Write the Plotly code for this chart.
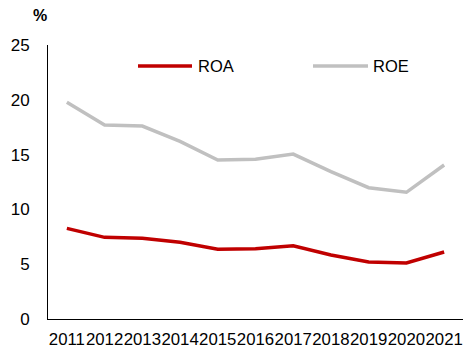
import plotly.graph_objects as go

years = ["2011", "2012", "2013", "2014", "2015", "2016", "2017", "2018", "2019", "2020", "2021"]
roa = [8.27, 7.45, 7.36, 7.0, 6.36, 6.42, 6.69, 5.84, 5.2, 5.11, 6.11]
roe = [19.77, 17.7, 17.6, 16.2, 14.5, 14.57, 15.05, 13.44, 11.98, 11.56, 14.05]
y_ticks = [0, 5, 10, 15, 20, 25]

RED = "#C00000"
GRAY = "#C0C0C0"
FONT = "Liberation Sans, Arial, sans-serif"

L, R, T, B = 48, 0, 45, 33
W, H = 463, 352
pw, ph = W - L - R, H - T - B

def px(x):
    return (x - L) / pw

def py(y):
    return (H - B - y) / ph

fig = go.Figure()
fig.add_trace(go.Scatter(x=years, y=roa, mode="lines", name="ROA",
                         line=dict(color=RED, width=3.5), showlegend=False))
fig.add_trace(go.Scatter(x=years, y=roe, mode="lines", name="ROE",
                         line=dict(color=GRAY, width=3.5), showlegend=False))

# legend drawn manually
shapes = [
    dict(type="line", xref="paper", yref="paper", x0=px(138), x1=px(192), y0=py(66), y1=py(66),
         line=dict(color=RED, width=3.5)),
    dict(type="line", xref="paper", yref="paper", x0=px(313), x1=px(368), y0=py(66), y1=py(66),
         line=dict(color=GRAY, width=3.5)),
]
annotations = [
    dict(text="ROA", xref="paper", yref="paper", x=px(196), y=py(66), xanchor="left", yanchor="middle",
         showarrow=False, font=dict(size=16.5, color="#000", family=FONT)),
    dict(text="ROE", xref="paper", yref="paper", x=px(371), y=py(66), xanchor="left", yanchor="middle",
         showarrow=False, font=dict(size=16.5, color="#000", family=FONT)),
    dict(text="<b>%</b>", xref="paper", yref="paper", x=px(40), y=py(16), xanchor="center", yanchor="middle",
         showarrow=False, font=dict(size=16, color="#000", family=FONT)),
]

fig.update_layout(
    width=W, height=H,
    margin=dict(l=L, r=R, t=T, b=B, pad=0, autoexpand=False),
    paper_bgcolor="white", plot_bgcolor="white",
    font=dict(family=FONT, size=17, color="#000"),
    shapes=shapes, annotations=annotations,
    xaxis=dict(type="category", range=[-0.5, 10.5], showgrid=False, showline=True,
               linecolor="#000", linewidth=1, ticks="", ticklabelstandoff=5,
               tickangle=0, automargin=False, tickfont=dict(size=16.8)),
    yaxis=dict(range=[0, 25], tickvals=y_ticks, showgrid=False, showline=True,
               linecolor="#000", linewidth=1, ticks="", ticklabelstandoff=14,
               automargin=False, zeroline=False, tickfont=dict(size=17)),
)

fig.write_html("out.html")
